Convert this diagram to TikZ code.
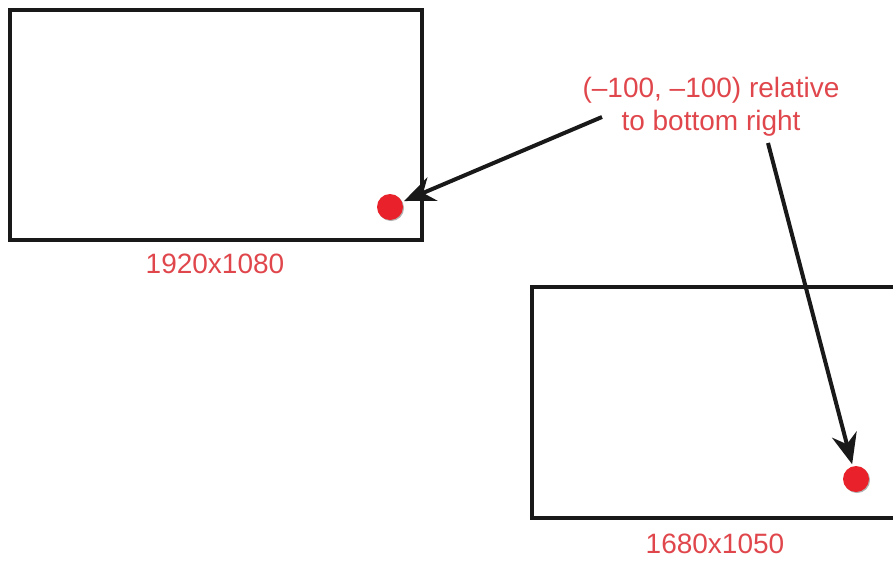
\documentclass[tikz,border=0pt]{standalone}
\usepackage{fontspec}
\setmainfont{Liberation Sans}
\usepackage{xcolor}
\usetikzlibrary{arrows.meta,positioning,shadows}
\definecolor{notered}{HTML}{E0474C}
\definecolor{dotred}{HTML}{E8212A}
\tikzset{
  screenbox/.style={draw=black!90,line width=3pt},
  spotnode/.style={
    circle,
    fill=dotred,
    minimum size=19.5pt,
    inner sep=0pt,
    drop shadow={shadow xshift=0.8pt,shadow yshift=-0.8pt,opacity=0.3,fill=black}
  },
  sizelabel/.style={
    text=notered,
    anchor=base,
    inner sep=0pt,
    font=\fontsize{21}{24}\selectfont
  },
  pointer/.style={-{Stealth[length=23pt,width=19pt]},line width=3pt,draw=black!90,shorten >=1.5pt}
}
\begin{document}
\begin{tikzpicture}[x=0.75pt,y=-0.75pt]
    \path[use as bounding box,clip] (0,0) rectangle (893,561);

    % the two screens
    \draw[screenbox] (10,10) rectangle (422,240);
    \draw[screenbox] (532,287) rectangle (910,518);

    \node[spotnode] (spotA) at (390,207) {};
    \node[spotnode] (spotB) at (856,479) {};

    \node[sizelabel] (sizeA) at (215,273) {1920x1080};
    \node[sizelabel] (sizeB) at (715,553) {1680x1050};

    \node[text=notered,align=center,inner sep=0pt,
      font=\fontsize{21}{25}\selectfont] (note) at (711,107) {
      (–100, –100) relative\\to bottom right};

    \coordinate (fromA) at (602,117);
    \coordinate (fromB) at (768,143);

    \draw[pointer] (fromA) -- (spotA);
    \draw[pointer] (fromB) -- (spotB);
\end{tikzpicture}
\end{document}
